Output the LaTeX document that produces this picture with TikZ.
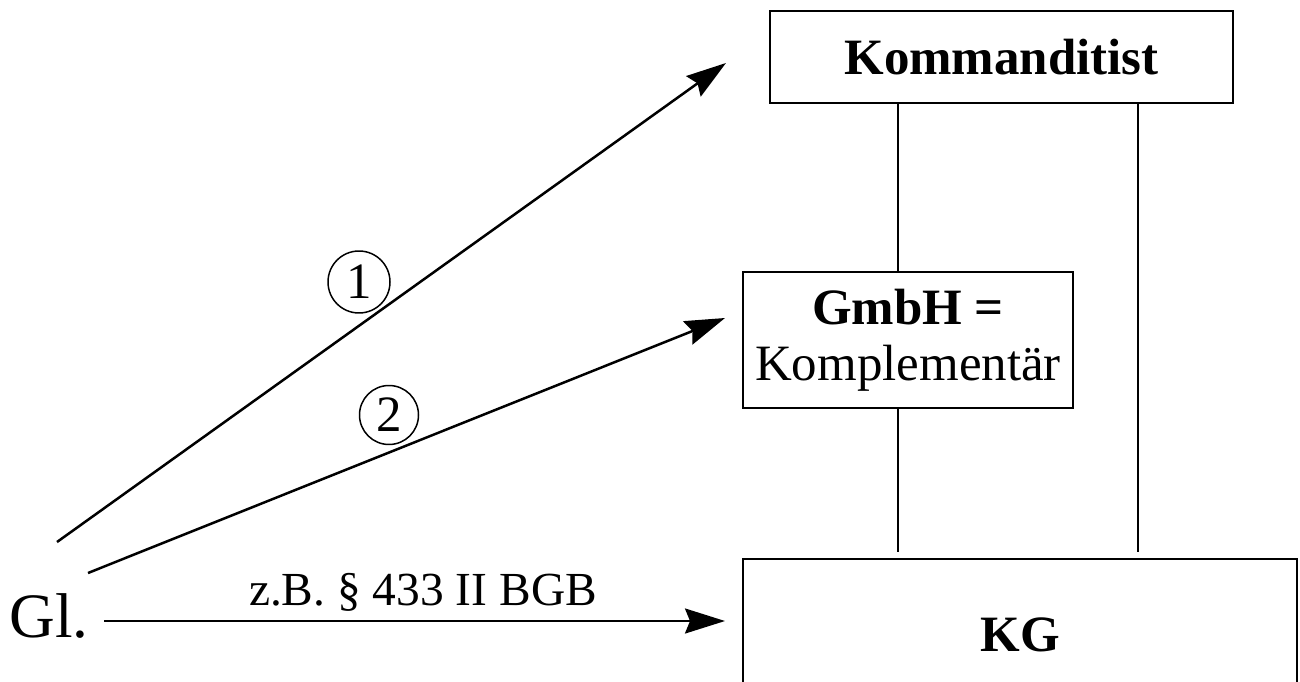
\documentclass[tikz,border=0pt]{standalone}
\usepackage{fontspec}
\setmainfont{Liberation Serif}
\usetikzlibrary{arrows.meta,calc}
\tikzset{
	party/.style={draw, line width=0.5mm, inner sep=0, font=\fontsize{29}{34}\selectfont},
	tie/.style={line width=0.4mm},
	claim/.style={line width=0.5mm, -{Stealth[length=0.8cm, width=0.5cm, inset=0.1cm]}},
	mark/.style={}
}
\begin{document}
\begin{tikzpicture}[x=0.02cm, y=-0.02cm]
			%%%%% START %%%%%
			\useasboundingbox (0, 0) rectangle (1300, 682);
			
			\node[party, minimum width=9.26cm, minimum height=1.84cm] (kom) at (1001.5, 57) {\textbf{Kommanditist}};
			\node[party, minimum width=6.6cm, minimum height=2.72cm, align=center] (gmbh) at (908, 340) {\textbf{GmbH =}\\[-2pt]Komplementär};
			\node[party, minimum width=11.08cm, minimum height=3.02cm] (kg) at (1020, 634.5) {\textbf{KG}};
			
			\coordinate (colA) at (898, 0);
			\coordinate (colB) at (1138, 0);
			\draw[tie] (kom.south -| colA) -- (gmbh.north -| colA);
			\draw[tie, shorten >=0.12cm] (gmbh.south -| colA) -- (kg.north -| colA);
			\draw[tie, shorten >=0.12cm] (kom.south -| colB) -- (kg.north -| colB);
			
			\node[anchor=base west, inner sep=0, font=\fontsize{36}{40}\selectfont] (gl) at (9, 637) {Gl.};
			
			\coordinate (s1) at (57, 542);
			\coordinate (s2) at (88, 573);
			\coordinate (s3) at (104, 621);
			\coordinate (t1) at (726, 63);
			\coordinate (t2) at (725, 318);
			\coordinate (t3) at (725, 621);
			
			\draw[claim] (s1) -- (t1);
			\draw[claim] (s2) -- (t2);
			\draw[claim] (s3) -- (t3);
			
			\node[anchor=base, inner sep=0, font=\fontsize{27}{30}\selectfont] (law) at (423, 605) {z.B. § 433 II BGB};
			
			\node[draw, circle, line width=0.3mm, minimum size=1.24cm, inner sep=0, font=\fontsize{29}{34}\selectfont] (one) at (359, 282) {1};
			\node[draw, circle, line width=0.3mm, minimum size=1.18cm, inner sep=0, font=\fontsize{29}{34}\selectfont] (two) at (389, 415) {2};
			
			%%%%% END %%%%%
		\end{tikzpicture}
\end{document}
